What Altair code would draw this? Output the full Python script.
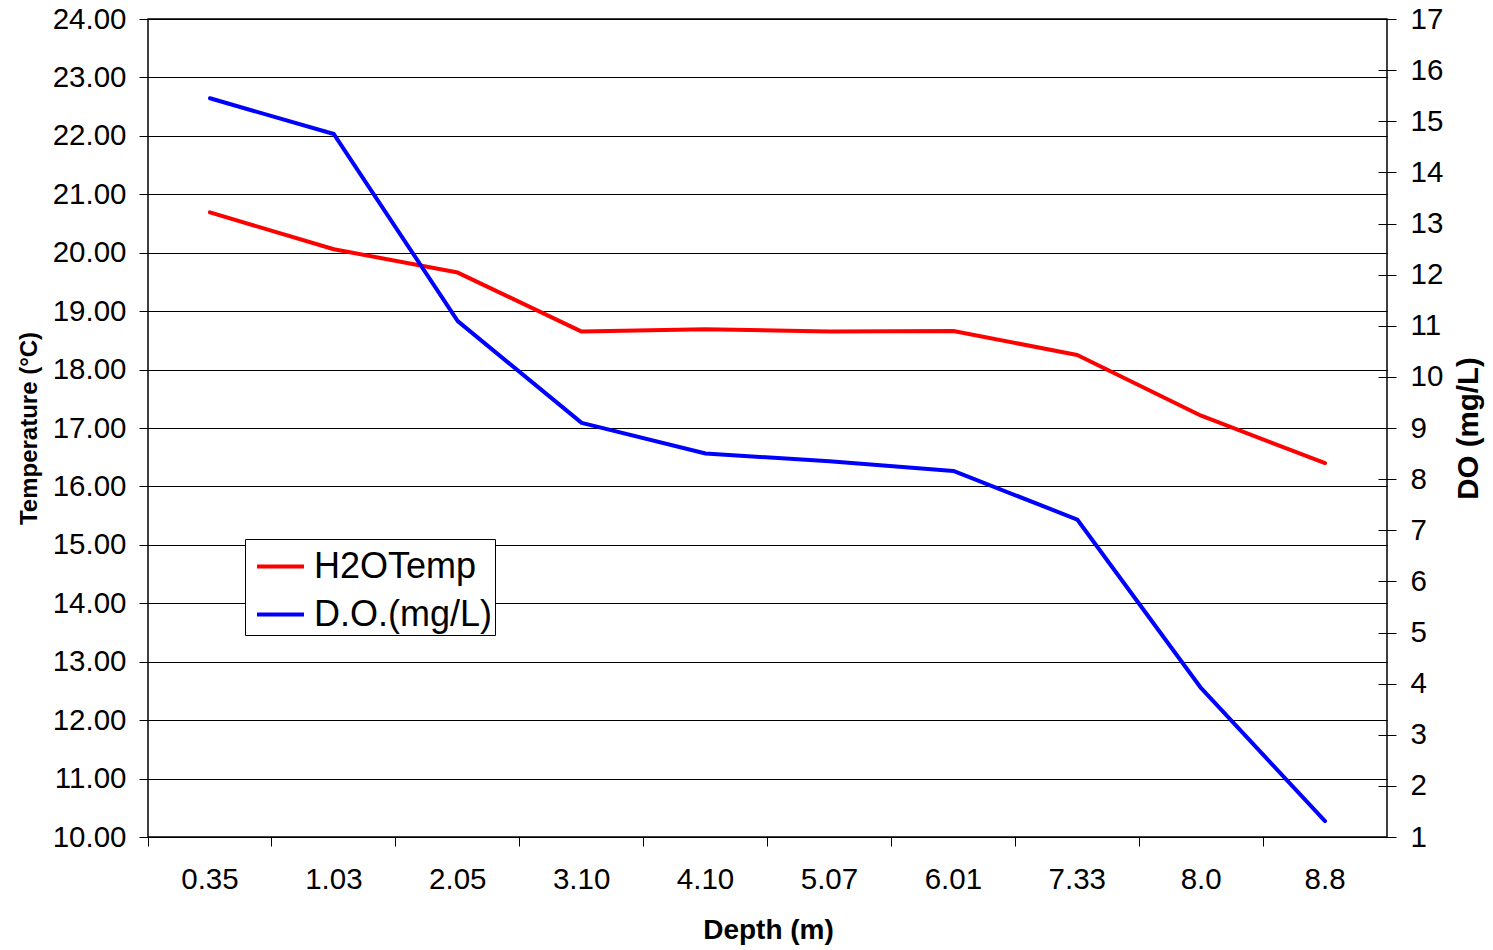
import altair as alt
import pandas as pd

# Depth profile: water temperature and dissolved oxygen
depth = ["0.35", "1.03", "2.05", "3.10", "4.10", "5.07", "6.01", "7.33", "8.0", "8.8"]
temp_c = [20.69, 20.06, 19.66, 18.65, 18.69, 18.65, 18.66, 18.25, 17.21, 16.40]
do_mgl = [15.45, 14.75, 11.09, 9.10, 8.50, 8.35, 8.16, 7.21, 3.91, 1.31]

temp_ticks = list(range(10, 25))
do_ticks = list(range(1, 18))

series_names = ["H2OTemp", "D.O.(mg/L)"]
series_colors = ["#FF0000", "#0000FF"]

df = pd.DataFrame({"depth": depth, "temp": temp_c, "do": do_mgl})

FONT = "Liberation Sans"
TICK_FONT = 29.5

x_enc = alt.X(
    "depth:O",
    sort=depth,
    bandPosition=0.5,
    scale=alt.Scale(type="band", paddingInner=0, paddingOuter=0),
    axis=alt.Axis(
        title="Depth (m)",
        labelAngle=0,
        bandPosition=0,
        grid=False,
        domain=False,
        tickSize=9,
        tickColor="black",
        labelPadding=19,
        labelFontSize=TICK_FONT,
        titleFontSize=28,
        titleFontWeight="bold",
        titleX=620,
        titleY=93,
        titleBaseline="middle",
        titleAlign="center",
    ),
)

color_enc = alt.Color(
    "series:N",
    scale=alt.Scale(domain=series_names, range=series_colors),
    legend=alt.Legend(
        title=None,
        orient="none",
        legendX=97,
        legendY=520,
        symbolType="stroke",
        symbolSize=2209,
        symbolStrokeWidth=4,
        symbolOffset=8,
        labelFontSize=36,
        labelFont=FONT,
        labelColor="black",
        labelOffset=8,
        labelLimit=400,
        rowPadding=4,
        padding=2,
        strokeColor="black",
        fillColor="white",
        cornerRadius=0,
    ),
)

temp_line = (
    alt.Chart(df)
    .transform_calculate(series="'H2OTemp'")
    .mark_line(strokeWidth=4, strokeCap="round", strokeJoin="round")
    .encode(
        x=x_enc,
        y=alt.Y(
            "temp:Q",
            scale=alt.Scale(domain=[10, 24], nice=False, zero=False),
            axis=alt.Axis(
                title="Temperature (°C)",
                values=temp_ticks,
                format=".2f",
                grid=True,
                gridColor="black",
                gridWidth=1,
                domain=False,
                tickSize=9,
                tickColor="black",
                labelPadding=13,
                labelFontSize=TICK_FONT,
                titleFontSize=24,
                titleFontWeight="bold",
                titleX=-119,
                titleY=409,
                titleAngle=270,
                titleBaseline="middle",
                titleAlign="center",
            ),
        ),
        color=color_enc,
    )
)

do_line = (
    alt.Chart(df)
    .transform_calculate(series="'D.O.(mg/L)'")
    .mark_line(strokeWidth=4, strokeCap="round", strokeJoin="round")
    .encode(
        x=x_enc,
        y=alt.Y(
            "do:Q",
            scale=alt.Scale(domain=[1, 17], nice=False, zero=False),
            axis=alt.Axis(
                title="DO (mg/L)",
                orient="right",
                values=do_ticks,
                format="d",
                grid=False,
                domain=False,
                offset=-9,
                tickSize=18,
                tickColor="black",
                labelPadding=14,
                labelFontSize=TICK_FONT,
                titleFontSize=29.5,
                titleFontWeight="bold",
                titleX=90,
                titleY=409,
                titleAngle=270,
                titleBaseline="middle",
                titleAlign="center",
            ),
        ),
        color=color_enc,
    )
)

chart = (
    alt.layer(temp_line, do_line)
    .resolve_scale(y="independent")
    .properties(
        width=1239,
        height=818,
        padding={"left": 148, "top": 19, "right": 106, "bottom": 113},
        autosize=alt.AutoSizeParams(type="none"),
        background="white",
    )
    .configure_view(stroke="black", strokeWidth=1.5)
    .configure_axis(labelFont=FONT, titleFont=FONT, labelColor="black", titleColor="black")
)

chart.save("out.html", embed_options={"renderer": "svg", "actions": False})
